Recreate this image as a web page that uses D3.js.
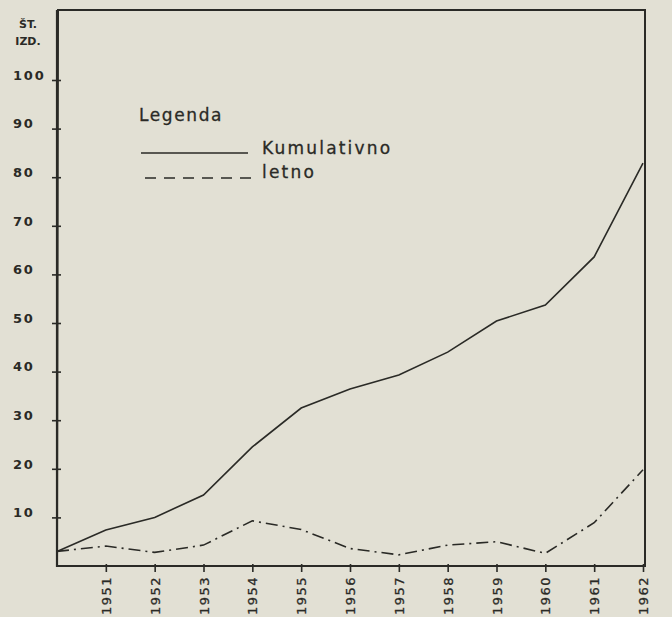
<!DOCTYPE html>
<meta charset="utf-8">
<head>
  <title>Št. izd. 1950-1962</title>
</head>
<style>
  body { margin: 0; background: #e2e0d4; }
  svg { display: block; }
  text { font-family: "DejaVu Sans", sans-serif; fill: #2a2a26; }
</style>
<body>
  <svg width="672" height="617"></svg>
  <script src="https://cdn.jsdelivr.net/npm/d3@7"></script>
  <script>
// data
var years = [1950, 1951, 1952, 1953, 1954, 1955, 1956, 1957, 1958, 1959, 1960, 1961, 1962];
var kumulativno = [3, 7.4, 10, 14.6, 24.5, 32.5, 36.4, 39.3, 44, 50.4, 53.7, 63.6, 82.9];
var letno = [3, 4.1, 2.8, 4.3, 9.3, 7.5, 3.6, 2.3, 4.3, 5.0, 2.6, 8.9, 19.8];
var yTicks = [10, 20, 30, 40, 50, 60, 70, 80, 90, 100];
var xTickYears = years.slice(1);
var yTitle = ["ŠT.", "IZD."];
var legendTitle = "Legenda";
var legendNames = ["Kumulativno", "letno"];

var ink = "#2a2a26";
var svg = d3.select("svg");

var x = d3.scaleLinear().domain([1950, 1962]).range([57, 643]);
var y = d3.scaleLinear().domain([0, 100]).range([566, 80]);

// frame: top and right border
svg.append("path")
  .attr("d", "M" + x(1950) + "," + 566 + " L" + (x(1950) + 1) + ",10 L645,10 L645,566")
  .style("fill", "none")
  .style("stroke", ink)
  .style("stroke-width", 2);

// y axis
var yAxis = svg.append("g")
  .attr("transform", "translate(" + x(1950) + ",0)")
  .call(d3.axisLeft(y).tickValues(yTicks).tickSize(5).tickPadding(0));
yAxis.select(".domain").remove();
yAxis.selectAll(".tick line")
  .attr("x1", -5).attr("x2", 4)
  .style("stroke", ink).style("stroke-width", 1.6);
yAxis.selectAll(".tick text")
  .attr("x", -44)
  .attr("dy", "-0.05em")
  .style("text-anchor", "start")
  .style("font-size", "13px")
  .style("font-weight", "bold")
  .style("letter-spacing", "1.8px")
  .style("font-family", "DejaVu Sans")
  .style("fill", ink);
svg.append("line")
  .attr("x1", x(1950)).attr("x2", x(1950))
  .attr("y1", 10).attr("y2", 567)
  .style("stroke", ink).style("stroke-width", 2.2);

// y title
svg.selectAll(".ytitle")
  .data(yTitle)
  .enter()
  .append("text")
  .attr("class", "ytitle")
  .attr("x", 28)
  .attr("y", function(d, i) { return 28 + i * 17; })
  .style("text-anchor", "middle")
  .style("font-size", "11px")
  .style("font-weight", "bold")
  .text(function(d) { return d; });

// x axis
var xAxis = svg.append("g")
  .attr("transform", "translate(0,566)")
  .call(d3.axisBottom(x).tickValues(xTickYears).tickFormat(d3.format("d")).tickSize(6));
xAxis.select(".domain").remove();
xAxis.selectAll(".tick line")
  .attr("y1", -2).attr("y2", 6)
  .style("stroke", ink).style("stroke-width", 1.6);
xAxis.selectAll(".tick text")
  .attr("transform", "rotate(-90)")
  .attr("x", -10)
  .attr("y", 0)
  .attr("dy", "0.35em")
  .style("text-anchor", "end")
  .style("font-size", "13px")
  .style("letter-spacing", "1.5px")
  .style("font-family", "DejaVu Sans")
  .style("fill", ink)
  .style("stroke", ink)
  .style("stroke-width", 0.3);
svg.append("line")
  .attr("x1", x(1950) - 1).attr("x2", 646)
  .attr("y1", 566).attr("y2", 566)
  .style("stroke", ink).style("stroke-width", 2.2);

// lines
var line = d3.line()
  .x(function(d, i) { return x(years[i]); })
  .y(function(d) { return y(d); });

svg.append("path")
  .attr("d", line(kumulativno))
  .style("fill", "none")
  .style("stroke", ink)
  .style("stroke-width", 1.6);

svg.append("path")
  .attr("d", line(letno))
  .style("fill", "none")
  .style("stroke", ink)
  .style("stroke-width", 1.6)
  .style("stroke-dasharray", "12,5,2,5");

// legend
svg.append("text")
  .attr("x", 139).attr("y", 121)
  .style("font-size", "17px")
  .style("letter-spacing", "1.6px")
  .style("stroke", ink)
  .style("stroke-width", 0.3)
  .text(legendTitle);

svg.append("line")
  .attr("x1", 141).attr("x2", 248)
  .attr("y1", 153).attr("y2", 153)
  .style("stroke", ink).style("stroke-width", 1.6);
svg.append("line")
  .attr("x1", 145).attr("x2", 256)
  .attr("y1", 178).attr("y2", 178)
  .style("stroke", ink).style("stroke-width", 1.6)
  .style("stroke-dasharray", "11,8");

svg.selectAll(".legtext")
  .data(legendNames)
  .enter()
  .append("text")
  .attr("class", "legtext")
  .attr("x", 262)
  .attr("y", function(d, i) { return 154 + i * 24; })
  .style("font-size", "17px")
  .style("letter-spacing", "2.2px")
  .style("stroke", ink)
  .style("stroke-width", 0.3)
  .text(function(d) { return d; });
  </script>
</body>
</html>
